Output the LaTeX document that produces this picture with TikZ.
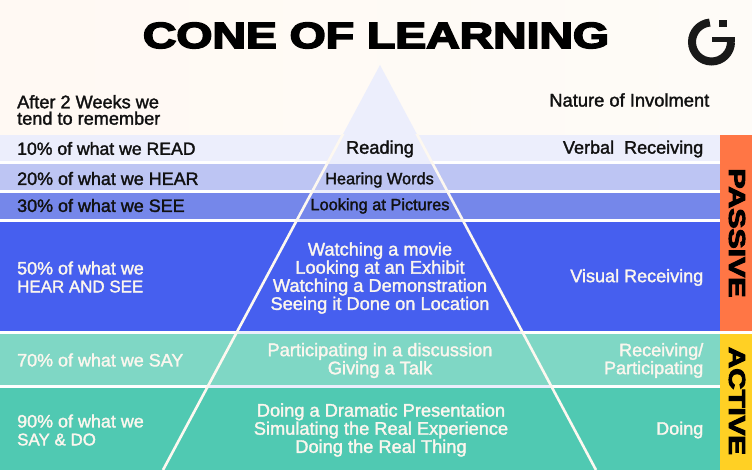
\documentclass[tikz,border=0pt]{standalone}
\usepackage{fontspec}
\setmainfont[FakeBold=1.7]{Liberation Sans}
\newfontfamily\titlefont[FakeBold=4]{Liberation Sans Bold}
\usepackage{graphicx}
\definecolor{bgl}{HTML}{FFF9F3}
\definecolor{bgr}{HTML}{FEFBF7}
\definecolor{cread}{HTML}{ECEEFC}
\definecolor{chear}{HTML}{BDC5F3}
\definecolor{csee}{HTML}{7587EA}
\definecolor{cbig}{HTML}{465FEF}
\definecolor{csay}{HTML}{7FD7C5}
\definecolor{cdo}{HTML}{50C9B2}
\definecolor{corange}{HTML}{FF7645}
\definecolor{cyellow}{HTML}{FFD024}
\definecolor{ink}{HTML}{111111}
\definecolor{paper}{HTML}{FBF6EE}
\definecolor{edge}{HTML}{FDF8F0}
\tikzset{
  lt/.style={anchor=west,inner sep=0pt,font=\fontsize{18}{18}\selectfont,align=left},
  rt/.style={anchor=east,inner sep=0pt,font=\fontsize{18.1}{18}\selectfont,align=right},
  ct/.style={inner sep=0pt,font=\fontsize{18.3}{18.2}\selectfont,align=center},
  cts/.style={inner sep=0pt,font=\fontsize{16.4}{18}\selectfont,align=center},
  dk/.style={text=ink},
  lg/.style={text=paper},
  logoline/.style={draw=black!90,line width=8bp}
}
\newcommand{\capsline}[1]{{\fontsize{17}{18}\selectfont #1}}
\begin{document}
\begin{tikzpicture}[x=1bp,y=-1bp]
\useasboundingbox (0,0) rectangle (752,470);
\shade[left color=bgl,right color=bgr] (0,0) rectangle (752,470);
\fill[white] (0,135) rectangle (752,470);
% bands, outside
\fill[cread] (0,135) rectangle (720,161);
\fill[chear] (0,164) rectangle (720,190);
\fill[csee] (0,193) rectangle (720,219);
\fill[cbig] (0,222) rectangle (720,331);
\fill[csay] (0,334) rectangle (720,385);
\fill[cdo] (0,388) rectangle (720,470);
% cone
\fill[cread] (380,65) -- (163,470) -- (596,470) -- cycle;
\begin{scope}
\clip (380,65) -- (163,470) -- (596,470) -- cycle;
\fill[chear] (0,164) rectangle (720,190);
\fill[csee] (0,193) rectangle (720,219);
\fill[cbig] (0,222) rectangle (720,331);
\fill[csay] (0,334) rectangle (720,385);
\fill[cdo] (0,388) rectangle (720,470);
\end{scope}
\begin{scope}
\clip (0,135) rectangle (720,470);
\draw[edge,line width=2.6bp] (380,65) -- (163,470);
\draw[edge,line width=2.6bp] (380,65) -- (596,470);
\end{scope}
% side bars
\fill[corange] (720,135) rectangle (752,331);
\fill[cyellow] (720,334) rectangle (752,470);
% title
\node[inner sep=0pt,text=black] (title) at (376,35.5) {\resizebox{466bp}{25.5bp}{\titlefont CONE OF LEARNING}};
% logo
\draw[logoline] (731,42) arc[start angle=0,end angle=-265,radius=19.5bp];
\fill[black!90] (712,37.3) rectangle (735,42.3);
\fill[black!90] (719,20) rectangle (726.7,26.7);
% left
\node[lt,dk,font=\fontsize{18.2}{16.5}\selectfont] (after) at (17,110) {After 2 Weeks we\\tend to remember};
\node[lt,dk,font=\fontsize{17.7}{18}\selectfont] (l10) at (17,148.5) {10\% of what we READ};
\node[lt,dk] (l20) at (17,178.5) {20\% of what we HEAR};
\node[lt,dk] (l30) at (17,205.5) {30\% of what we SEE};
\node[lt,lg] (l50) at (17,277) {50\% of what we\\\capsline{HEAR AND SEE}};
\node[lt,lg] (l70) at (17,360) {70\% of what we SAY};
\node[lt,lg] (l90) at (17,430) {90\% of what we\\\capsline{SAY \& DO}};
% centre
\node[ct,dk] (c1) at (380,149) {Reading};
\node[cts,dk] (c2) at (379.5,180) {Hearing Words};
\node[cts,dk] (c3) at (380,206) {Looking at Pictures};
\node[ct,lg] (c4) at (380,278) {Watching a movie\\Looking at an Exhibit\\Watching a Demonstration\\Seeing it Done on Location};
\node[ct,lg] (c5) at (380,360.5) {Participating in a discussion\\Giving a Talk};
\node[ct,lg] (c6) at (381,430) {Doing a Dramatic Presentation\\Simulating the Real Experience\\Doing the Real Thing};
% right
\node[rt,dk,font=\fontsize{18.4}{18}\selectfont] (r0) at (709.5,100) {Nature of Involment};
\node[rt,dk] (r1) at (703.5,149) {Verbal\ \ Receiving};
\node[rt,lg] (r2) at (703.5,277.5) {Visual Receiving};
\node[rt,lg] (r3) at (703.5,360.5) {Receiving/\\Participating};
\node[rt,lg] (r4) at (703.5,430) {Doing};
% side labels
\node[inner sep=0pt,rotate=-90,text=black] (passive) at (737,233) {\resizebox{129bp}{16bp}{\titlefont PASSIVE}};
\node[inner sep=0pt,rotate=-90,text=black] (active) at (737,401) {\resizebox{108bp}{16bp}{\titlefont ACTIVE}};
\end{tikzpicture}
\end{document}
